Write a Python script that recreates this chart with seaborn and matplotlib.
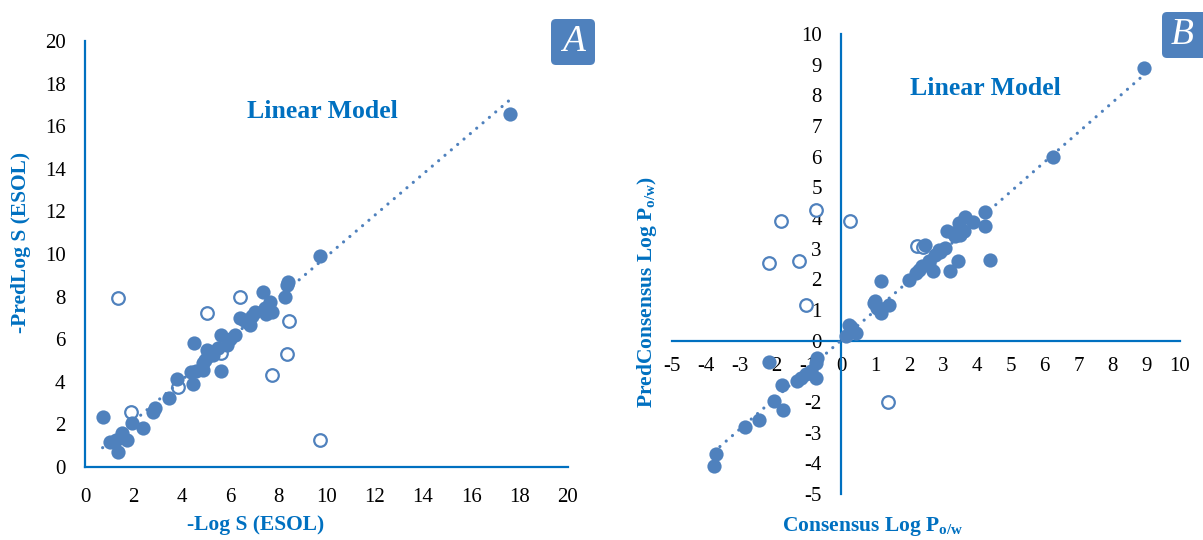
import numpy as np
import pandas as pd
import matplotlib
matplotlib.use("Agg")
import matplotlib.pyplot as plt
import seaborn as sns
from matplotlib.patches import FancyBboxPatch

# ---------------- data ----------------
# Panel A: -Log S (ESOL) vs -PredLog S (ESOL)
a_x = [0.73, 1.04, 1.38, 1.52, 1.72, 1.28, 1.93, 2.39, 2.90, 2.83,
       3.48, 3.80, 4.49, 4.38, 4.53, 4.90, 5.04, 4.97, 5.31, 5.62,
       5.62, 5.87, 6.21, 6.42, 6.70, 6.83, 7.04, 7.38, 7.45, 7.66,
       7.73, 8.28, 8.35, 8.42, 9.75, 17.58,
       6.60, 6.90, 5.10, 5.20, 4.60, 7.50, 6.00, 4.90, 5.50]
a_y = [2.36, 1.19, 0.72, 1.58, 1.27, 1.26, 2.05, 1.82, 2.75, 2.60,
       3.25, 4.12, 3.88, 4.47, 5.84, 4.55, 5.49, 5.02, 5.26, 6.20,
       4.51, 5.73, 6.20, 6.98, 6.82, 6.67, 7.29, 8.23, 7.45, 7.76,
       7.29, 8.00, 8.54, 8.70, 9.90, 16.58,
       6.90, 7.10, 5.20, 5.40, 4.50, 7.20, 6.00, 4.90, 5.60]
a_out_x = [1.36, 1.91, 3.84, 5.05, 5.63, 6.42, 7.74, 8.37, 8.43, 9.75]
a_out_y = [7.93, 2.58, 3.76, 7.24, 5.33, 7.96, 4.33, 5.30, 6.87, 1.29]

# Panel B: Consensus Log Po/w vs PredConsensus Log Po/w
b_x = [-3.77, -3.70, -2.83, -2.42, -1.98, -1.72, -2.13, -1.75, -1.32, -1.20,
       -1.05, -0.90, -0.74, -0.71, -0.74, 0.13, 0.23, 0.32, 0.42, 0.96,
       1.06, 1.16, 1.40, 1.18, 1.99, 2.28, 2.38, 2.48, 2.58, 2.70,
       2.77, 2.87, 3.07, 3.12, 3.22, 3.36, 3.44, 3.46, 3.61, 3.66,
       3.90, 4.25, 4.25, 4.39, 6.26, 8.95,
       0.30, 2.20, 2.60, 3.30, 3.50, 2.90, 1.00]
b_y = [-4.10, -3.70, -2.83, -2.58, -1.98, -2.25, -0.70, -1.46, -1.33, -1.22,
       -1.09, -1.00, -1.22, -0.57, -0.73, 0.14, 0.52, 0.36, 0.25, 1.23,
       1.07, 0.90, 1.17, 1.93, 1.97, 2.32, 2.42, 3.13, 2.53, 2.28,
       2.80, 2.97, 3.02, 3.59, 2.26, 3.40, 2.59, 3.84, 3.57, 4.02,
       3.87, 4.20, 3.75, 2.62, 5.99, 8.89,
       0.45, 2.20, 2.60, 3.50, 3.45, 2.90, 1.30]
b_out_x = [-1.78, -2.13, -1.25, -0.74, -1.03, 0.25, 2.24, 2.40, 1.37]
b_out_y = [3.91, 2.52, 2.59, 4.27, 1.15, 3.91, 3.10, 3.05, -2.01]

a_ticks = [0, 2, 4, 6, 8, 10, 12, 14, 16, 18, 20]
b_ticks = [-5, -4, -3, -2, -1, 0, 1, 2, 3, 4, 5, 6, 7, 8, 9, 10]

# ---------------- style ----------------
sns.set_style("white")
plt.rcParams["font.family"] = ["Liberation Serif", "DejaVu Serif"]
plt.rcParams["mathtext.fontset"] = "custom"
plt.rcParams["mathtext.rm"] = "Liberation Serif"
plt.rcParams["mathtext.bf"] = "Liberation Serif:bold"
plt.rcParams["mathtext.it"] = "Liberation Serif:italic"

MARK = "#4F81BD"
AXC = "#0070C0"
TXT = "#0070C0"

fig = plt.figure(figsize=(12.03, 5.40), dpi=100)
axA = fig.add_axes([85 / 1203, 1 - 467 / 540, (568 - 85) / 1203, (467 - 41) / 540])
axB = fig.add_axes([672 / 1203, 1 - 494 / 540, (1180 - 672) / 1203, (494 - 34) / 540])


def draw(ax, x, y, ox, oy):
    main = pd.DataFrame({"x": x, "y": y})
    outl = pd.DataFrame({"x": ox, "y": oy})
    sns.scatterplot(data=outl, x="x", y="y", ax=ax, s=82, facecolor="white",
                    edgecolor=MARK, linewidth=1.6, zorder=2, legend=False)
    sns.scatterplot(data=main, x="x", y="y", ax=ax, s=105, color=MARK,
                    edgecolor=MARK, linewidth=0, zorder=3, legend=False)
    k, b = np.polyfit(main["x"], main["y"], 1)
    xs = np.array([main["x"].min(), main["x"].max()])
    trend = pd.DataFrame({"x": xs, "y": k * xs + b})
    sns.lineplot(data=trend, x="x", y="y", ax=ax, color=MARK, lw=2.3,
                 linestyle=(0, (0.01, 2.6)), dash_capstyle="round", zorder=4)
    ax.set_xlabel("")
    ax.set_ylabel("")


draw(axA, a_x, a_y, a_out_x, a_out_y)
draw(axB, b_x, b_y, b_out_x, b_out_y)

for ax, ticks in ((axA, a_ticks), (axB, b_ticks)):
    ax.set_xlim(ticks[0], ticks[-1])
    ax.set_ylim(ticks[0], ticks[-1])
    ax.set_xticks(ticks)
    ax.set_yticks(ticks)
    ax.set_xticklabels([str(t) for t in ticks])
    ax.set_yticklabels([str(t) for t in ticks])
    ax.tick_params(length=0, labelsize=15, colors="black")
    ax.tick_params(axis="x", pad=15)
    ax.tick_params(axis="y", pad=14)
    for s in ("top", "right"):
        ax.spines[s].set_visible(False)
    for s in ("left", "bottom"):
        ax.spines[s].set_color(AXC)
        ax.spines[s].set_linewidth(1.6)
    ax.patch.set_alpha(0)
    ax.grid(False)

axB.spines["left"].set_position(("data", 0))
axB.spines["bottom"].set_position(("data", 0))
axB.tick_params(axis="x", pad=12)
axB.tick_params(axis="y", pad=14)

# titles inside
fig.text(322 / 1203, 1 - 112 / 540, "Linear Model", color=TXT, fontsize=18.5,
         fontweight="bold", ha="center", va="center")
fig.text(985 / 1203, 1 - 89 / 540, "Linear Model", color=TXT, fontsize=18.5,
         fontweight="bold", ha="center", va="center")

# axis labels
fig.text(256 / 1203, 1 - 525 / 540, "-Log S (ESOL)", color=TXT, fontsize=15.5,
         fontweight="bold", ha="center", va="center")
fig.text(21 / 1203, 1 - 242 / 540, "-PredLog S (ESOL)", color=TXT, fontsize=15.5,
         fontweight="bold", ha="center", va="center", rotation=90)
fig.text(873 / 1203, 1 - 527 / 540, r"Consensus Log P$_{\mathbf{o/w}}$", color=TXT,
         fontsize=15.5, fontweight="bold", ha="center", va="center")
fig.text(647 / 1203, 1 - 292 / 540, r"PredConsensus Log P$_{\mathbf{o/w}}$)", color=TXT,
         fontsize=15.5, fontweight="bold", ha="center", va="center", rotation=90)

# panel letter boxes
for (x0, y0, w, h, letter) in ((5.51, 4.75, 0.44, 0.46, "A"), (11.62, 4.82, 0.48, 0.46, "B")):
    box = FancyBboxPatch((x0, y0), w, h, boxstyle="round,pad=0,rounding_size=0.05",
                         transform=fig.dpi_scale_trans, facecolor=MARK,
                         edgecolor="none", zorder=10)
    fig.patches.append(box)
    cx = x0 + (0.44 if letter == "A" else 0.41) / 2
    fig.text(cx / 12.03, (y0 + h / 2) / 5.40, letter, color="white", fontsize=27,
             fontstyle="italic", ha="center", va="center", zorder=11)

fig.savefig("out.png", dpi=100)
